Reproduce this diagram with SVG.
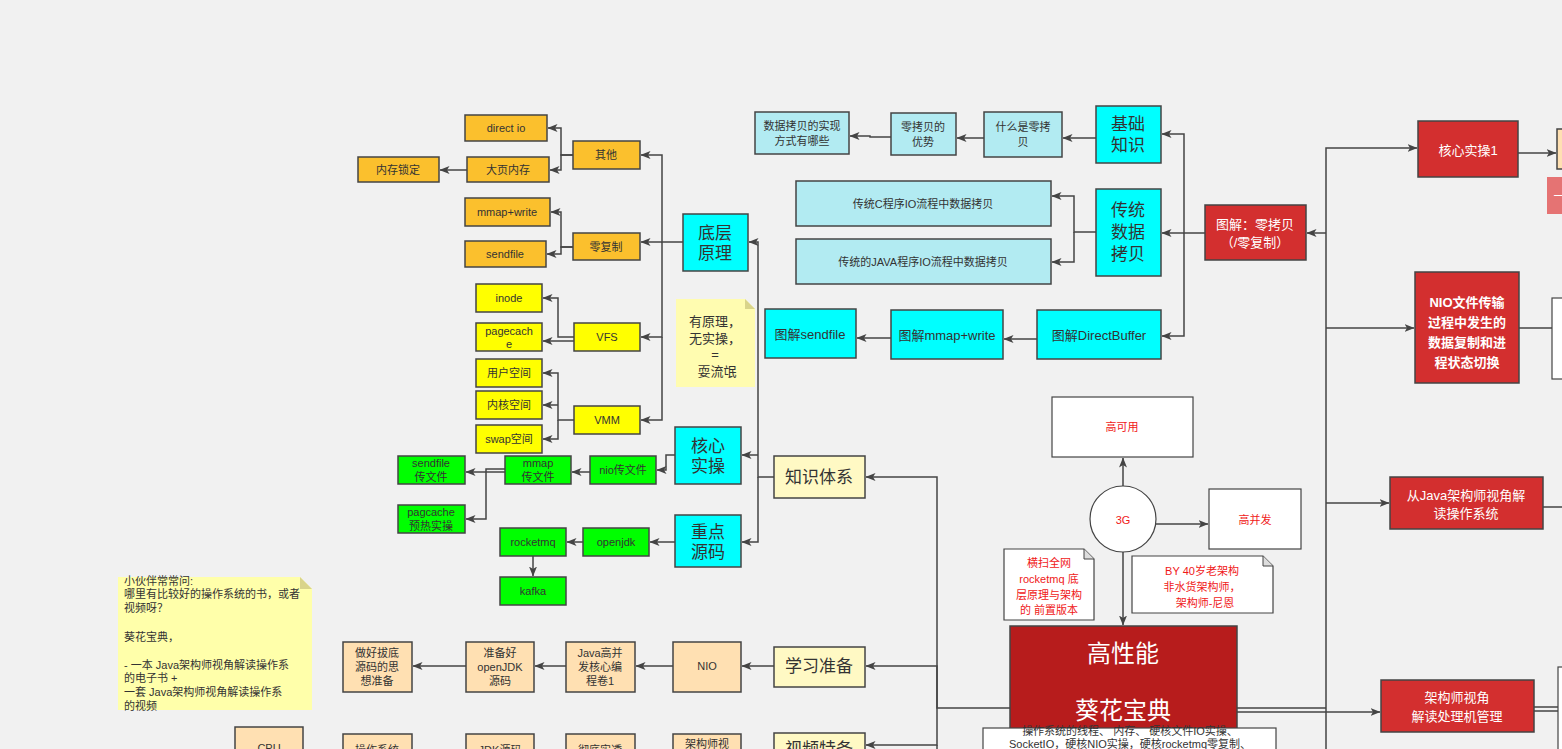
<svg xmlns="http://www.w3.org/2000/svg" width="1562" height="749" viewBox="0 0 1562 749">
<defs>
<marker id="a" viewBox="0 0 10 8" refX="9.5" refY="4" markerWidth="10" markerHeight="8" markerUnits="userSpaceOnUse" orient="auto"><path d="M0,0 L10,4 L0,8 L2.5,4 z" fill="#444"/></marker>
</defs>
<style>
text{font-family:"Liberation Sans","Noto Sans CJK SC",sans-serif;text-anchor:middle;dominant-baseline:central;}
.n rect{stroke:#444;stroke-width:1.5;}
.or rect{fill:#fbc02d;} .ye rect{fill:#ffff00;} .gr rect{fill:#00ff00;} .cy rect{fill:#00ffff;}
.lc rect{fill:#b2ebf2;} .pe rect{fill:#ffe0b2;} .ly rect{fill:#fff9c4;} .rd rect{fill:#d32f2f;}
.s{font-size:11px;fill:#333;} .b{font-size:17px;fill:#333;} .w{font-size:13px;fill:#fff;}
.r{font-size:11px;fill:#f01818;}
#edges path{fill:none;stroke:#444;stroke-width:1.5;}
#edges path.ar{marker-end:url(#a);}
</style>
<rect width="1562" height="749" fill="#f1f1f1"/>

<g id="edges">
<path class="ar" d="M683,242 H662 V155 H641"/>
<path class="ar" d="M662,242 H641"/>
<path class="ar" d="M662,242 V337 H641"/>
<path class="ar" d="M662,337 V420 H641"/>
<path class="ar" d="M573,155 H561 V128 H548"/>
<path class="ar" d="M573,155 H561 V170 H550"/>
<path class="ar" d="M467,170 H440"/>
<path class="ar" d="M573,247 H561 V212 H551"/>
<path class="ar" d="M573,247 H561 V254 H547"/>
<path class="ar" d="M574,337 H558 V298 H543"/>
<path class="ar" d="M574,341 H543"/>
<path class="ar" d="M574,420 H558 V373 H543"/>
<path class="ar" d="M558,405 H543"/>
<path class="ar" d="M558,420 V439 H543"/>
<path class="ar" d="M774,477 H758 V242 H749"/>
<path class="ar" d="M758,455 H742"/>
<path class="ar" d="M758,477 V542 H742"/>
<path class="ar" d="M675,455 H666 V470 H657"/>
<path class="ar" d="M590,472 H572"/>
<path class="ar" d="M505,472 H466"/>
<path class="ar" d="M505,469 H486 V519 H466"/>
<path class="ar" d="M675,542 H650"/>
<path class="ar" d="M583,542 H567"/>
<path class="ar" d="M533,556 V576"/>
<path class="ar" d="M1205,233 H1184 V134 H1162"/>
<path class="ar" d="M1184,233 H1162"/>
<path class="ar" d="M1184,233 V336 H1162"/>
<path class="ar" d="M1096,138 H1063"/>
<path class="ar" d="M984,138 H957"/>
<path class="ar" d="M891,137 H870 V136 H850"/>
<path class="ar" d="M1096,232 H1074 V196 H1052"/>
<path class="ar" d="M1074,232 V262 H1052"/>
<path class="ar" d="M1037,339 H1004"/>
<path class="ar" d="M891,338 H857"/>
<path class="ar" d="M1010,708 H937 V477 H866"/>
<path class="ar" d="M937,708 V666 H866"/>
<path class="ar" d="M937,708 V745 H866"/>
<path d="M937,745 V749"/>
<path class="ar" d="M1123,486 V458"/>
<path class="ar" d="M1156,524 H1208"/>
<path class="ar" d="M1123,552 V625"/>
<path d="M1237,708 H1326 M1237,712 H1326 M1326,712 V749"/>
<path class="ar" d="M1326,712 V148 H1417"/>
<path class="ar" d="M1326,233 H1307"/>
<path class="ar" d="M1326,328 H1414"/>
<path class="ar" d="M1326,503 H1389"/>
<path class="ar" d="M1326,712 H1380"/>
<path class="ar" d="M1518,153 H1556"/>
<path d="M1519,328 H1552 M1543,507 H1562 M1534,707 H1558 M1534,711 H1558"/>
</g>

<!-- orange -->
<g id="n-directio" class="n or"><rect x="465" y="115" width="82" height="26"/><text class="s" x="506" y="128">direct io</text></g>
<g id="n-dayeneicun" class="n or"><rect x="467" y="157" width="82" height="25"/><text class="s" x="508" y="170">大页内存</text></g>
<g id="n-neicunsuoding" class="n or"><rect x="358" y="157" width="81" height="25"/><text class="s" x="398" y="170">内存锁定</text></g>
<g id="n-qita" class="n or"><rect x="573" y="141" width="67" height="28"/><text class="s" x="606" y="155">其他</text></g>
<g id="n-mmapwrite" class="n or"><rect x="465" y="198" width="85" height="28"/><text class="s" x="507" y="212">mmap+write</text></g>
<g id="n-sendfile" class="n or"><rect x="465" y="241" width="81" height="26"/><text class="s" x="505" y="254">sendfile</text></g>
<g id="n-lingfuzhi" class="n or"><rect x="573" y="233" width="67" height="27"/><text class="s" x="606" y="247">零复制</text></g>

<!-- yellow -->
<g id="n-inode" class="n ye"><rect x="476" y="284" width="66" height="28"/><text class="s" x="509" y="298">inode</text></g>
<g id="n-pagecache" class="n ye"><rect x="476" y="323" width="66" height="28"/><text class="s" x="509" y="331">pagecach</text><text class="s" x="509" y="344">e</text></g>
<g id="n-yonghu" class="n ye"><rect x="476" y="359" width="66" height="28"/><text class="s" x="509" y="373">用户空间</text></g>
<g id="n-neihe" class="n ye"><rect x="476" y="391" width="66" height="28"/><text class="s" x="509" y="405">内核空间</text></g>
<g id="n-swap" class="n ye"><rect x="476" y="425" width="66" height="28"/><text class="s" x="509" y="439">swap空间</text></g>
<g id="n-vfs" class="n ye"><rect x="574" y="323" width="66" height="28"/><text class="s" x="607" y="337">VFS</text></g>
<g id="n-vmm" class="n ye"><rect x="574" y="406" width="66" height="28"/><text class="s" x="607" y="420">VMM</text></g>

<!-- green -->
<g id="n-sendfilecwj" class="n gr"><rect x="398" y="456" width="67" height="28"/><text class="s" x="431" y="463">sendfile</text><text class="s" x="431" y="477">传文件</text></g>
<g id="n-mmapcwj" class="n gr"><rect x="505" y="456" width="66" height="28"/><text class="s" x="538" y="463">mmap</text><text class="s" x="538" y="477">传文件</text></g>
<g id="n-niocwj" class="n gr"><rect x="590" y="456" width="66" height="28"/><text class="s" x="623" y="470">nio传文件</text></g>
<g id="n-pagcache" class="n gr"><rect x="398" y="505" width="67" height="28"/><text class="s" x="431" y="512">pagcache</text><text class="s" x="431" y="526">预热实操</text></g>
<g id="n-rocketmq" class="n gr"><rect x="500" y="528" width="66" height="28"/><text class="s" x="533" y="542">rocketmq</text></g>
<g id="n-openjdk" class="n gr"><rect x="583" y="528" width="66" height="28"/><text class="s" x="616" y="542">openjdk</text></g>
<g id="n-kafka" class="n gr"><rect x="500" y="577" width="66" height="28"/><text class="s" x="533" y="591">kafka</text></g>

<!-- cyan -->
<g id="n-diceng" class="n cy"><rect x="683" y="214" width="65" height="57"/><text class="b" x="715" y="233">底层</text><text class="b" x="715" y="253">原理</text></g>
<g id="n-hexinshicao" class="n cy"><rect x="675" y="427" width="66" height="57"/><text class="b" x="708" y="446">核心</text><text class="b" x="708" y="466">实操</text></g>
<g id="n-zhongdian" class="n cy"><rect x="675" y="515" width="66" height="52"/><text class="b" x="708" y="532">重点</text><text class="b" x="708" y="552">源码</text></g>
<g id="n-zhishi" class="n ly"><rect x="774" y="456" width="91" height="42"/><text class="b" x="819" y="477">知识体系</text></g>
<g id="n-note1"><path d="M676,299 H745 L755,309 V387 H676 Z" fill="#fffcb0"/><path d="M745,299 V309 H755 Z" fill="#d9d48a"/>
<text x="715" y="321" style="font-size:13px;fill:#333">有原理，</text><text x="715" y="338" style="font-size:13px;fill:#333">无实操，</text><text x="715" y="354" style="font-size:13px;fill:#333">=</text><text x="717" y="371" style="font-size:13px;fill:#333">耍流氓</text></g>

<!-- top cluster -->
<g id="n-shixian" class="n lc"><rect x="755" y="112" width="94" height="42"/><text class="s" x="802" y="126">数据拷贝的实现</text><text class="s" x="802" y="141">方式有哪些</text></g>
<g id="n-youshi" class="n lc"><rect x="891" y="113" width="65" height="42"/><text class="s" x="923" y="127">零拷贝的</text><text class="s" x="923" y="142">优势</text></g>
<g id="n-shenme" class="n lc"><rect x="984" y="112" width="78" height="45"/><text class="s" x="1023" y="127">什么是零拷</text><text class="s" x="1023" y="142">贝</text></g>
<g id="n-jichu" class="n cy"><rect x="1096" y="106" width="65" height="57"/><text class="b" x="1128" y="124">基础</text><text class="b" x="1128" y="145">知识</text></g>
<g id="n-cio" class="n lc"><rect x="796" y="181" width="255" height="45"/><text class="s" x="923" y="204">传统C程序IO流程中数据拷贝</text></g>
<g id="n-javaio" class="n lc"><rect x="796" y="239" width="255" height="45"/><text class="s" x="923" y="262">传统的JAVA程序IO流程中数据拷贝</text></g>
<g id="n-chuantong" class="n cy"><rect x="1096" y="189" width="65" height="87"/><text class="b" x="1128" y="210">传统</text><text class="b" x="1128" y="232">数据</text><text class="b" x="1128" y="254">拷贝</text></g>
<g id="n-tjsendfile" class="n cy"><rect x="765" y="309" width="91" height="49"/><text x="810" y="334" style="font-size:13px;fill:#333">图解sendfile</text></g>
<g id="n-tjmmap" class="n cy"><rect x="891" y="310" width="112" height="49"/><text x="947" y="335" style="font-size:13px;fill:#333">图解mmap+write</text></g>
<g id="n-tjdb" class="n cy"><rect x="1037" y="310" width="124" height="49"/><text x="1099" y="335" style="font-size:13px;fill:#333">图解DirectBuffer</text></g>
<g id="n-tjlkb" class="n rd"><rect x="1205" y="205" width="101" height="55"/><text class="w" x="1255" y="224">图解：零拷贝</text><text class="w" x="1255" y="242">（/零复制）</text></g>

<!-- 3G -->
<g id="n-gaokeyong"><rect x="1052" y="397" width="141" height="60" fill="#fff" stroke="#444" stroke-width="1.2"/><text class="r" x="1122" y="427">高可用</text></g>
<g id="n-3g"><circle cx="1123" cy="519" r="33" fill="#fff" stroke="#444" stroke-width="1.2"/><text class="r" x="1123" y="520">3G</text></g>
<g id="n-gaobingfa"><rect x="1209" y="489" width="92" height="60" fill="#fff" stroke="#444" stroke-width="1.2"/><text class="r" x="1255" y="520">高并发</text></g>
<g id="n-note2"><path d="M1004,549 H1084 L1094,559 V620 H1004 Z" fill="#fff" stroke="#444" stroke-width="1.2"/><path d="M1084,549 V559 H1094" fill="#ddd" stroke="#444" stroke-width="1"/>
<text class="r" x="1049" y="563">横扫全网</text><text class="r" x="1049" y="579">rocketmq 底</text><text class="r" x="1049" y="595">层原理与架构</text><text class="r" x="1049" y="610">的 前置版本</text></g>
<g id="n-note3"><path d="M1132,556 H1263 L1273,566 V613 H1132 Z" fill="#fff" stroke="#444" stroke-width="1.2"/><path d="M1263,556 V566 H1273" fill="#ddd" stroke="#444" stroke-width="1"/>
<text class="r" x="1202" y="571">BY 40岁老架构</text><text class="r" x="1202" y="587">非水货架构师，</text><text class="r" x="1205" y="603">架构师-尼恩</text></g>

<!-- main -->
<g id="n-main"><rect x="1010" y="626" width="227" height="140" fill="#b71c1c" stroke="#444" stroke-width="1.5"/><text x="1123" y="653" style="font-size:24px;fill:#fff">高性能</text><text x="1123" y="710" style="font-size:24px;fill:#fff">葵花宝典</text></g>
<g id="n-desc"><rect x="983" y="728" width="293" height="30" fill="#fff" stroke="#444" stroke-width="1.2"/><text class="s" x="1130" y="731">操作系统的线程、 内存、 硬核文件IO实操、</text><text class="s" x="1130" y="744">SocketIO，硬核NIO实操，硬核rocketmq零复制、</text></g>

<!-- right -->
<g id="n-hexin1" class="n rd"><rect x="1418" y="121" width="100" height="56"/><text class="w" x="1468" y="150">核心实操1</text></g>
<g id="n-nio" class="n rd"><rect x="1415" y="272" width="104" height="111"/><text class="w" x="1467" y="302" style="font-weight:bold">NIO文件传输</text><text class="w" x="1467" y="322" style="font-weight:bold">过程中发生的</text><text class="w" x="1467" y="342" style="font-weight:bold">数据复制和进</text><text class="w" x="1467" y="362" style="font-weight:bold">程状态切换</text></g>
<g id="n-javajg" class="n rd"><rect x="1390" y="477" width="153" height="52"/><text class="w" x="1466" y="495">从Java架构师视角解</text><text class="w" x="1466" y="513">读操作系统</text></g>
<g id="n-clj" class="n rd"><rect x="1381" y="680" width="153" height="52"/><text class="w" x="1457" y="697">架构师视角</text><text class="w" x="1457" y="716">解读处理机管理</text></g>
<g id="n-p1"><rect x="1557" y="129" width="20" height="40" fill="#ffe0b2" stroke="#444" stroke-width="1.5"/></g>
<g id="n-p2"><rect x="1547" y="177" width="30" height="37" fill="#e57373"/><text x="1560" y="195" style="font-size:13px;fill:#fff">一</text></g>
<g id="n-p3"><rect x="1552" y="298" width="20" height="81" fill="#fff" stroke="#444" stroke-width="1.2"/></g>
<g id="n-p4"><rect x="1558" y="667" width="20" height="100" fill="#fff" stroke="#444" stroke-width="1.2"/></g>

<!-- bottom left -->
<g id="n-note4"><path d="M118,577 H300 L312,589 V710 H118 Z" fill="#ffffaa"/><path d="M300,577 V589 H312 Z" fill="#d9d48a"/>
<g style="font-size:11px;fill:#333;text-anchor:start">
<text x="124" y="581" style="text-anchor:start">小伙伴常常问:</text>
<text x="124" y="594" style="text-anchor:start">哪里有比较好的操作系统的书，或者</text>
<text x="124" y="608" style="text-anchor:start">视频呀？</text>
<text x="124" y="637" style="text-anchor:start">葵花宝典，</text>
<text x="124" y="665" style="text-anchor:start">- 一本  Java架构师视角解读操作系</text>
<text x="124" y="678" style="text-anchor:start">的电子书 +</text>
<text x="124" y="692" style="text-anchor:start">一套  Java架构师视角解读操作系</text>
<text x="124" y="706" style="text-anchor:start">的视频</text>
</g></g>
<g id="edges2" style="fill:none;stroke:#444;stroke-width:1.5">
<path d="M774,666 H742" marker-end="url(#a)"/>
<path d="M673,666 H636" marker-end="url(#a)"/>
<path d="M566,666 H535" marker-end="url(#a)"/>
<path d="M466,666 H413" marker-end="url(#a)"/>
</g>
<g id="n-sidi" class="n pe"><rect x="343" y="642" width="69" height="50"/><text class="s" x="377" y="653">做好拔底</text><text class="s" x="377" y="667">源码的思</text><text class="s" x="377" y="681">想准备</text></g>
<g id="n-openjdkym" class="n pe"><rect x="466" y="642" width="68" height="50"/><text class="s" x="500" y="653">准备好</text><text class="s" x="500" y="667">openJDK</text><text class="s" x="500" y="681">源码</text></g>
<g id="n-javagbf" class="n pe"><rect x="566" y="642" width="69" height="50"/><text class="s" x="600" y="653">Java高并</text><text class="s" x="600" y="667">发核心编</text><text class="s" x="600" y="681">程卷1</text></g>
<g id="n-nio2" class="n pe"><rect x="673" y="642" width="68" height="50"/><text class="s" x="707" y="666">NIO</text></g>
<g id="n-xuexi" class="n ly"><rect x="774" y="647" width="91" height="40"/><text class="b" x="819" y="666">学习准备</text></g>
<g id="n-cpu" class="n pe"><rect x="235" y="727" width="68" height="50"/><text class="s" x="269" y="748">CPU</text></g>
<g id="n-czxt" class="n pe"><rect x="343" y="734" width="69" height="50"/><text class="s" x="377" y="750">操作系统</text></g>
<g id="n-jdkym" class="n pe"><rect x="466" y="734" width="68" height="50"/><text class="s" x="500" y="750">JDK源码</text></g>
<g id="n-chedi" class="n pe"><rect x="566" y="734" width="69" height="50"/><text class="s" x="600" y="750">彻底实透</text></g>
<g id="n-jgsv" class="n pe"><rect x="673" y="734" width="68" height="50"/><text class="s" x="707" y="744">架构师视</text></g>
<g id="n-shipin" class="n ly"><rect x="774" y="733" width="91" height="40"/><text class="b" x="819" y="749">视频特备</text></g>
</svg>
